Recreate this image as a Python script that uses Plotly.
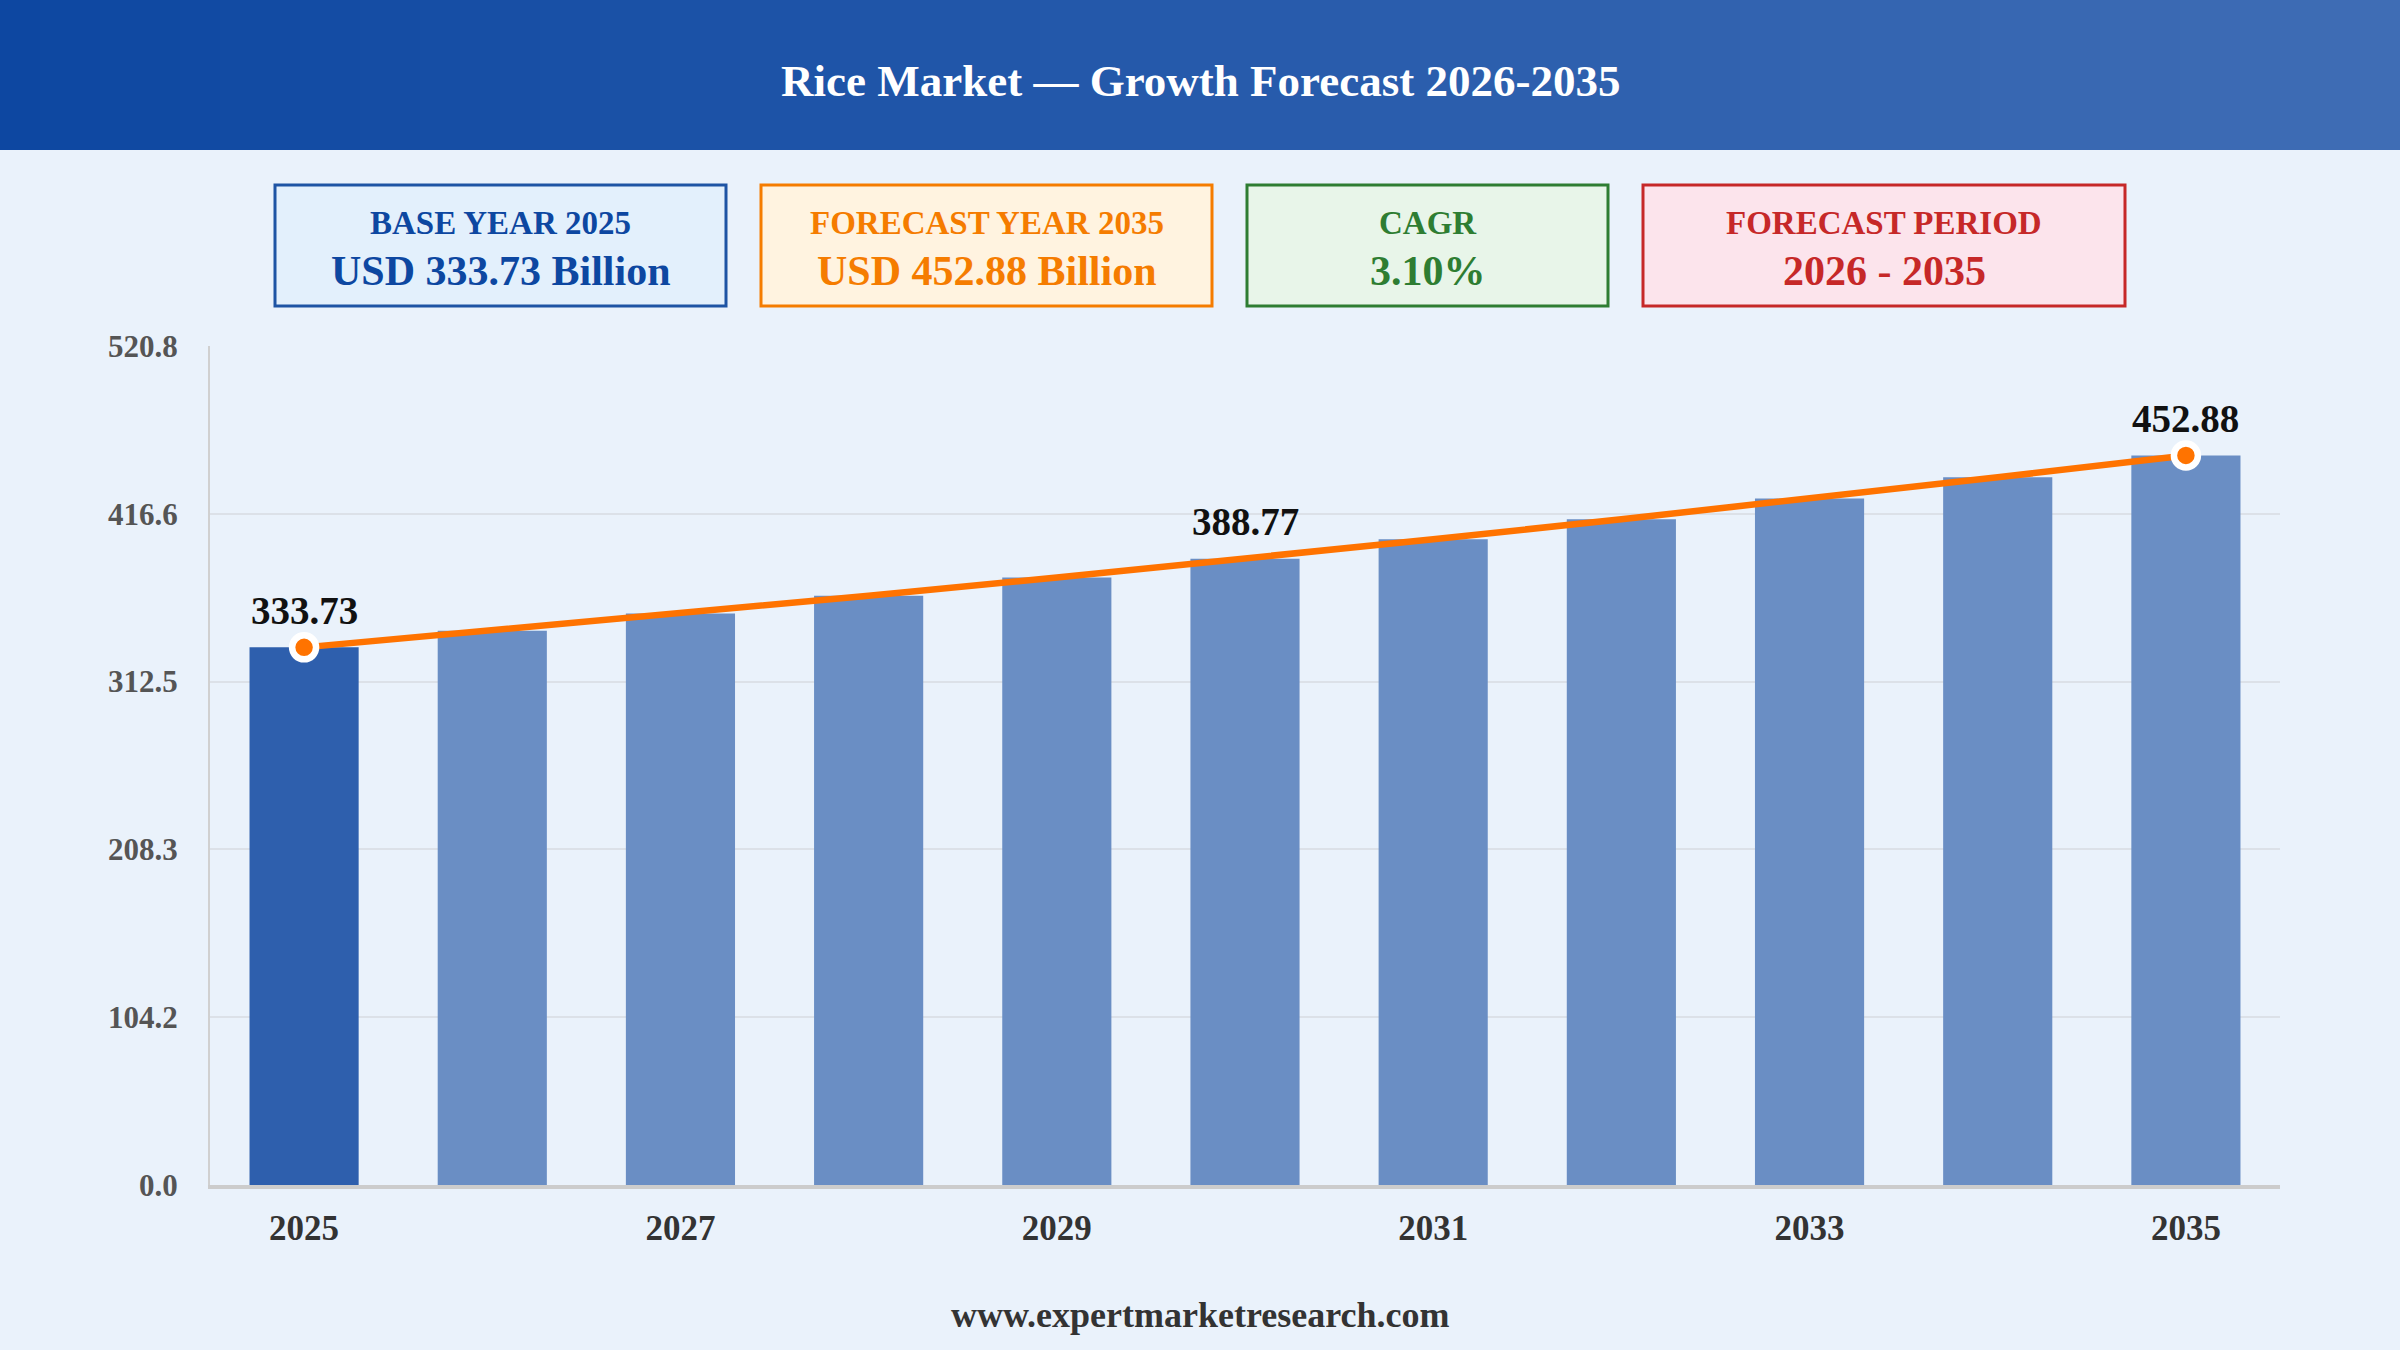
import plotly.graph_objects as go

# ---------------- data ----------------
years = [2025, 2026, 2027, 2028, 2029, 2030, 2031, 2032, 2033, 2034, 2035]
market_values = [333.73, 344.08, 354.74, 365.74, 377.08, 388.77, 400.82, 413.25, 426.06, 439.27, 452.88]
labelled_years = [2025, 2030, 2035]
marker_years = [2025, 2035]
x_tick_years = [2025, 2027, 2029, 2031, 2033, 2035]
y_tick_values = [0.0, 104.2, 208.3, 312.5, 416.6, 520.8]
y_tick_labels = ["0.0", "104.2", "208.3", "312.5", "416.6", "520.8"]
y_max = 520.8

title_text = "Rice Market — Growth Forecast 2026-2035"
kpi_labels = ["BASE YEAR 2025", "FORECAST YEAR 2035", "CAGR", "FORECAST PERIOD"]
kpi_values = ["USD 333.73 Billion", "USD 452.88 Billion", "3.10%", "2026 - 2035"]
footer_text = "www.expertmarketresearch.com"

# ---------------- styling ----------------
W, H = 2400, 1350
ML, MR, MT, MB = 210, 120, 346, 165
PW, PH = W - ML - MR, H - MT - MB
FONT = "Liberation Serif, Times New Roman, serif"
BG = "#EAF2FB"
ORANGE = "#FF7300"
BAR_BASE = "#2E5FAD"
BAR_OTHER = "#6A8EC4"


def px(x):
    return (x - ML) / PW


def py(y):
    return (H - MB - y) / PH


bar_colors = [BAR_BASE if y == years[0] else BAR_OTHER for y in years]

fig = go.Figure()
fig.add_trace(go.Bar(
    x=years, y=market_values, width=0.58,
    marker=dict(color=bar_colors, line=dict(width=0)),
    hoverinfo="skip", showlegend=False,
))
fig.add_trace(go.Scatter(
    x=years, y=market_values, mode="lines",
    line=dict(color=ORANGE, width=6.5),
    hoverinfo="skip", showlegend=False,
))
mk_vals = [market_values[years.index(y)] for y in marker_years]
fig.add_trace(go.Scatter(
    x=marker_years, y=mk_vals, mode="markers",
    marker=dict(color=ORANGE, size=24, line=dict(color="white", width=6.5)),
    hoverinfo="skip", showlegend=False,
))

shapes = []
# header gradient
c0 = (13, 71, 161)
c1 = (63, 109, 181)
n = 120
x_left, x_right = px(0), px(W)
for i in range(n):
    t = i / (n - 1)
    col = tuple(round(c0[k] + (c1[k] - c0[k]) * t) for k in range(3))
    xa = x_left + (x_right - x_left) * i / n
    xb = x_left + (x_right - x_left) * (i + 1) / n + 0.001
    shapes.append(dict(type="rect", xref="paper", yref="paper",
                       x0=xa, x1=xb, y0=py(150), y1=py(-5),
                       fillcolor="rgb(%d,%d,%d)" % col, line=dict(width=0), layer="below"))

# KPI boxes
box_x = [(275, 726), (761, 1212), (1247, 1608), (1643, 2125)]
box_border = ["#1E54A4", "#F57C00", "#2E7D32", "#C62828"]
box_fill = ["#E3F0FC", "#FFF3E0", "#E8F5E9", "#FCE4EC"]
box_text = ["#0D47A1", "#F57C00", "#2E7D32", "#C62828"]
annotations = []
for (x0, x1), bc, fc, tc, lab, val in zip(box_x, box_border, box_fill, box_text, kpi_labels, kpi_values):
    shapes.append(dict(type="rect", xref="paper", yref="paper",
                       x0=px(x0), x1=px(x1), y0=py(306), y1=py(185),
                       fillcolor=fc, line=dict(color=bc, width=3), layer="below"))
    xc = px((x0 + x1) / 2)
    annotations.append(dict(xref="paper", yref="paper", x=xc, y=py(223),
                            text="<b>%s</b>" % lab, showarrow=False,
                            xanchor="center", yanchor="middle",
                            font=dict(family=FONT, size=33, color=tc)))
    annotations.append(dict(xref="paper", yref="paper", x=xc, y=py(271),
                            text="<b>%s</b>" % val, showarrow=False,
                            xanchor="center", yanchor="middle",
                            font=dict(family=FONT, size=42, color=tc)))

# title
annotations.append(dict(xref="paper", yref="paper", x=px(W / 2), y=py(81),
                        text="<b>%s</b>" % title_text, showarrow=False,
                        xanchor="center", yanchor="middle",
                        font=dict(family=FONT, size=45, color="white")))
# footer
annotations.append(dict(xref="paper", yref="paper", x=px(W / 2), y=py(1315),
                        text="<b>%s</b>" % footer_text, showarrow=False,
                        xanchor="center", yanchor="middle",
                        font=dict(family=FONT, size=36, color="#333333")))
# data labels
for y in labelled_years:
    v = market_values[years.index(y)]
    annotations.append(dict(x=y, y=v, xref="x", yref="y",
                            text="<b>%.2f</b>" % v, showarrow=False,
                            xanchor="center", yanchor="middle", yshift=37,
                            font=dict(family=FONT, size=39, color="#111111")))

fig.update_layout(
    width=W, height=H,
    margin=dict(l=ML, r=MR, t=MT, b=MB, pad=0),
    paper_bgcolor=BG, plot_bgcolor=BG,
    shapes=shapes, annotations=annotations,
    bargap=0.42,
    xaxis=dict(
        range=[years[0] - 0.5, years[-1] + 0.5],
        tickmode="array", tickvals=x_tick_years,
        ticktext=["<b>%d</b>" % y for y in x_tick_years],
        tickfont=dict(family=FONT, size=35, color="#333333"),
        showgrid=False, zeroline=False,
        showline=True, linecolor="#CCCCCC", linewidth=4,
        ticks="", ticklabelstandoff=9,
        fixedrange=True,
    ),
    yaxis=dict(
        range=[0, y_max],
        tickmode="array", tickvals=y_tick_values,
        ticktext=["<b>%s</b>" % t for t in y_tick_labels],
        tickfont=dict(family=FONT, size=31, color="#555555"),
        showgrid=True, gridcolor="#DCE1E8", gridwidth=2,
        zeroline=False,
        showline=True, linecolor="#D0D0D0", linewidth=2,
        ticks="", ticklabelstandoff=24,
        fixedrange=True,
    ),
)

fig.write_html(
    "out.html",
    config={"displayModeBar": False},
    post_script="document.body.style.margin='0';document.body.style.overflow='hidden';",
)
